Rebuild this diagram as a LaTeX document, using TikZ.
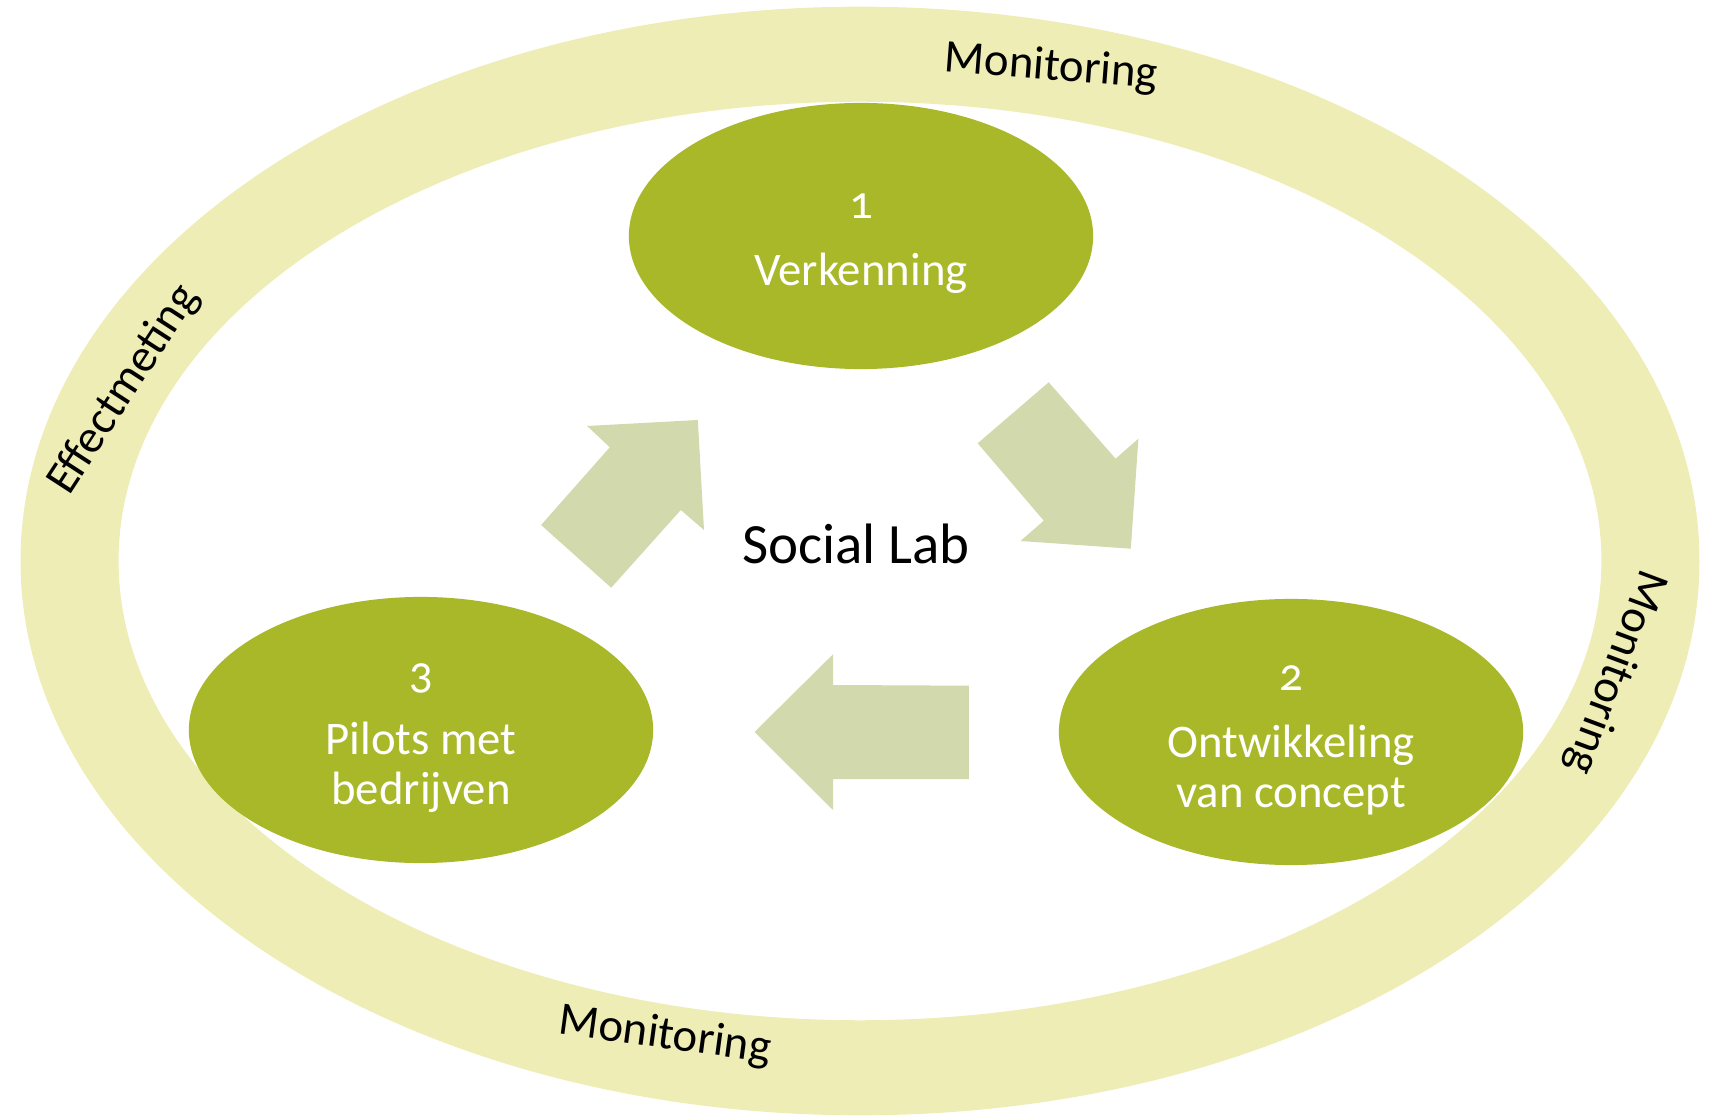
\documentclass[tikz,border=0pt]{standalone}
\usepackage{fontspec}
\setmainfont[Numbers=OldStyle]{Carlito}
\usetikzlibrary{shapes.geometric}

\definecolor{ringyellow}{HTML}{EEEDB6}
\definecolor{phasegreen}{HTML}{A8B829}
\definecolor{arrowgreen}{HTML}{D1D9AD}

\begin{document}
\begin{tikzpicture}[x=0.01cm,y=-0.01cm]
    \tikzset{Phase/.style = {ellipse, fill=phasegreen, minimum width=4.64cm,
        minimum height=2.66cm, inner sep=0pt}}
    \tikzset{PhaseText/.style = {text=white, inner sep=0pt, align=center, yshift=-0.08cm,
        font=\fontsize{13.3}{14.2}\selectfont}}
    \tikzset{RingText/.style = {inner sep=0pt, font=\fontsize{13.3}{16}\selectfont}}
    \tikzset{BlockArrow/.style = {fill=arrowgreen}}

    \useasboundingbox (0,0) rectangle (1709,1116);

    \fill[ringyellow, even odd rule]
        (860,561) ellipse [x radius=8.39cm, y radius=5.54cm]
        (860,561) ellipse [x radius=7.41cm, y radius=4.59cm];

    \node[Phase] (verkenning)   at (861,236)  {};
    \node[Phase] (ontwikkeling) at (1291,732) {};
    \node[Phase] (pilots)       at (421,730)  {};

    \node[PhaseText] (verkenning-text)   at (verkenning)   {1\\[4.8pt]Verkenning};
    \node[PhaseText] (ontwikkeling-text) at (ontwikkeling) {2\\[4.8pt]Ontwikkeling\\van concept};
    \node[PhaseText] (pilots-text)       at (pilots)       {3\\[4.8pt]Pilots met\\bedrijven};

    \node[font=\fontsize{16.2}{18}\selectfont] (sociallab) at (856,544) {Social Lab};

    \fill[BlockArrow] (587.1,426) -- (697.8,420) -- (704.0,530) -- (680.8,510)
        -- (611.2,587.7) -- (541.1,525) -- (609.8,447.3) -- cycle;
    \fill[BlockArrow] (1048.7,382.3) -- (1115.6,458.7) -- (1138.4,438.7) -- (1130.8,548.7)
        -- (1020.5,541) -- (1043.8,520.7) -- (977.7,443.3) -- cycle;
    \fill[BlockArrow] (968.8,685.7) -- (833,685) -- (833,654.3) -- (754.5,732)
        -- (833,810) -- (833,779) -- (968.8,779) -- cycle;

    \node[RingText, rotate=-4.4]   (montop)    at (1051,68)  {Monitoring};
    \node[RingText, rotate=-110.5] (monright)  at (1615,672) {Monitoring};
    \node[RingText, rotate=-7.7]   (monbottom) at (665,1036) {Monitoring};
    \node[RingText, rotate=57]     (effect)    at (124,390)  {Effectmeting};
\end{tikzpicture}
\end{document}
